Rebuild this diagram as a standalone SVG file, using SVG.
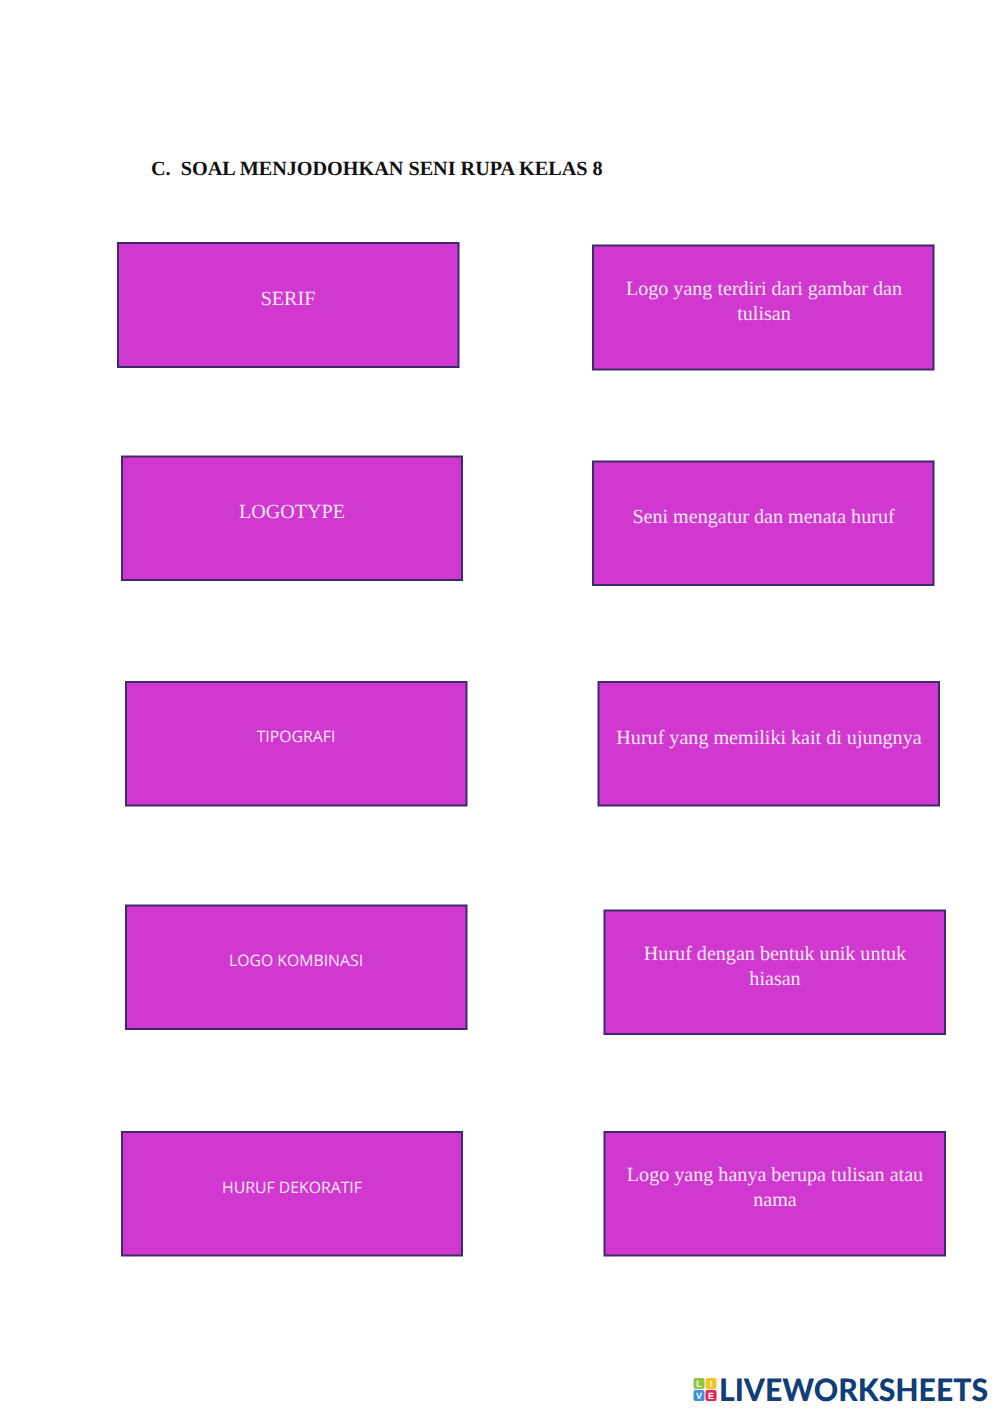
<svg xmlns="http://www.w3.org/2000/svg" width="1000" height="1414" viewBox="0 0 1000 1414" text-rendering="geometricPrecision">
<style>
.b{fill:#d038cf;stroke:#3b2a6e;stroke-width:2}
.s{font-family:"Liberation Serif",serif;font-size:20.1px;fill:#fbe6fb;text-anchor:middle}
.c{font-family:"Open Sans","Noto Sans",sans-serif;font-size:15.8px;fill:#fbe6fb;text-anchor:middle}
.l{font-family:"Liberation Sans",sans-serif;font-size:9px;font-weight:700;fill:#fff;text-anchor:middle}
</style>
<rect width="1000" height="1414" fill="#fff"/>
<text id="title" x="151" y="174.500" font-family="Liberation Serif, serif" font-size="20.2" font-weight="700" fill="#111" xml:space="preserve">C.  SOAL MENJODOHKAN SENI RUPA KELAS 8</text>
<g id="connectors"/>
<g id="n1"><rect class="b" x="118" y="243" width="340.500" height="124"/><text class="s" x="288" y="305">SERIF</text></g>
<g id="n2"><rect class="b" x="122" y="456.500" width="340" height="123.500"/><text class="s" x="292" y="518">LOGOTYPE</text></g>
<g id="n3"><rect class="b" x="126" y="682" width="340.500" height="123.500"/><text class="c" x="296" y="742">TIPOGRAFI</text></g>
<g id="n4"><rect class="b" x="126" y="905.500" width="340.500" height="123.500"/><text class="c" x="296" y="966">LOGO KOMBINASI</text></g>
<g id="n5"><rect class="b" x="122" y="1132" width="340" height="123.500"/><text class="c" x="292" y="1193">HURUF DEKORATIF</text></g>
<g id="n6"><rect class="b" x="593" y="245.500" width="340.500" height="124"/><text class="s" x="764" y="295">Logo yang terdiri dari gambar dan</text><text class="s" x="764" y="320">tulisan</text></g>
<g id="n7"><rect class="b" x="593" y="461.500" width="340.500" height="123.500"/><text class="s" x="763.500" y="523">Seni mengatur dan menata huruf</text></g>
<g id="n8"><rect class="b" x="598.500" y="682" width="340.500" height="123.500"/><text class="s" x="769" y="744">Huruf yang memiliki kait di ujungnya</text></g>
<g id="n9"><rect class="b" x="604.500" y="910.500" width="340.500" height="123.500"/><text class="s" x="775" y="960">Huruf dengan bentuk unik untuk</text><text class="s" x="775" y="985">hiasan</text></g>
<g id="n10"><rect class="b" x="604.500" y="1132" width="340.500" height="123.500"/><text class="s" x="775" y="1181">Logo yang hanya berupa tulisan atau</text><text class="s" x="775" y="1206">nama</text></g>
<g id="logo">
<rect x="693.500" y="1378" width="11" height="11" rx="2" fill="#8cc63f"/><text class="l" x="699" y="1387">L</text>
<rect x="705.500" y="1378" width="11" height="11" rx="2" fill="#f7c325"/><text class="l" x="711" y="1387">I</text>
<rect x="693.500" y="1390" width="11" height="11" rx="2" fill="#3f8fdc"/><text class="l" x="699" y="1399">V</text>
<rect x="705.500" y="1390" width="11" height="11" rx="2" fill="#e3264f"/><text class="l" x="711" y="1399">E</text>
<text x="719" y="1400.500" font-family="Lato, sans-serif" font-size="31" font-weight="900" fill="#0f3f76" textLength="269" lengthAdjust="spacingAndGlyphs">LIVEWORKSHEETS</text>
</g>
</svg>
